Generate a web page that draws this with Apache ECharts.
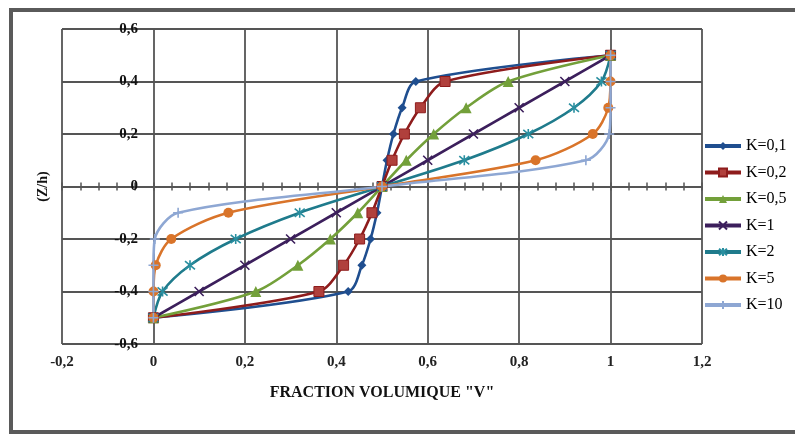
<!DOCTYPE html>
<html>
<head>
<meta charset="utf-8">
<script src="https://cdn.jsdelivr.net/npm/echarts@6/dist/echarts.min.js"></script>
<style>
  html, body { margin: 0; padding: 0; background: #fff; }
  #chart { width: 795px; height: 434px; }
</style>
</head>
<body>
<div id="chart"></div>
<script>
// z/h positions of the plotted points
var zValues = [-0.5, -0.4, -0.3, -0.2, -0.1, 0, 0.1, 0.2, 0.3, 0.4, 0.5];
// volume fraction V read for each K
var vK01 = [0, 0.426, 0.456, 0.475, 0.489, 0.5, 0.511, 0.525, 0.544, 0.574, 1];
var vK02 = [0, 0.362, 0.416, 0.451, 0.478, 0.5, 0.522, 0.549, 0.584, 0.638, 1];
var vK05 = [0, 0.224, 0.316, 0.387, 0.447, 0.5, 0.553, 0.613, 0.684, 0.776, 1];
var vK1 = [0, 0.1, 0.2, 0.3, 0.4, 0.5, 0.6, 0.7, 0.8, 0.9, 1];
var vK2 = [0, 0.02, 0.08, 0.18, 0.32, 0.5, 0.68, 0.82, 0.92, 0.98, 1];
var vK5 = [0, 0.0002, 0.005, 0.039, 0.164, 0.5, 0.836, 0.961, 0.995, 0.9998, 1];
var vK10 = [0, 0, 0.0001, 0.003, 0.054, 0.5, 0.946, 0.997, 0.9999, 1, 1];
var seriesNames = ['K=0,1', 'K=0,2', 'K=0,5', 'K=1', 'K=2', 'K=5', 'K=10'];

var serif = '"Liberation Serif", "DejaVu Serif", serif';

function fmt(v) {
  var r = Math.round(v * 10) / 10;
  return String(r).replace('.', ',');
}

function pairs(vs) {
  return vs.map(function (v, i) { return [v, zValues[i]]; });
}

function line(name, vs, color, symbol, size, extra) {
  var s = {
    name: name,
    type: 'line',
    data: pairs(vs),
    smooth: 0.3,
    symbol: symbol,
    symbolSize: size,
    showAllSymbol: true,
    lineStyle: { color: color, width: 2.6 },
    itemStyle: { color: color }
  };
  if (extra) s.itemStyle = extra;
  return s;
}

var myChart = echarts.init(document.getElementById('chart'));
var option = {
  animation: false,
  backgroundColor: '#fff',
  graphic: [{
    type: 'rect',
    shape: { x: 11, y: 10, width: 800, height: 422 },
    style: { fill: 'none', stroke: '#5a5a5a', lineWidth: 4 },
    z: -1
  }],
  grid: { left: 62, right: 93, top: 29, bottom: 90 },
  legend: {
    orient: 'vertical',
    left: 703,
    top: 138,
    padding: 0,
    itemWidth: 36,
    itemHeight: 10,
    itemGap: 10.5,
    lineStyle: { width: 4 },
    textStyle: { fontFamily: serif, fontSize: 16, lineHeight: 15, color: '#000' },
    data: seriesNames
  },
  xAxis: [
    {
      type: 'value',
      min: -0.2,
      max: 1.2,
      interval: 0.2,
      position: 'bottom',
      name: 'FRACTION VOLUMIQUE "V"',
      nameLocation: 'middle',
      nameGap: 41,
      nameTextStyle: { fontFamily: serif, fontSize: 16, fontWeight: 'bold', color: '#111' },
      axisLine: { show: false, onZero: false },
      axisTick: { show: false },
      axisLabel: { fontFamily: serif, fontSize: 15, fontWeight: 'bold', color: '#222', margin: 11, formatter: fmt },
      splitLine: { show: true, lineStyle: { color: '#555', width: 1.8 } }
    },
    {
      type: 'value',
      min: -0.2,
      max: 1.2,
      interval: 0.04,
      position: 'bottom',
      axisLine: { show: true, onZero: true, onZeroAxisIndex: 0, lineStyle: { color: '#555', width: 1.8 } },
      axisTick: { show: true, inside: true, length: 4, lineStyle: { color: '#555', width: 1.5 } },
      axisLabel: { show: false },
      splitLine: { show: false }
    },
    {
      type: 'value',
      min: -0.2,
      max: 1.2,
      interval: 0.04,
      position: 'bottom',
      axisLine: { show: false, onZero: true, onZeroAxisIndex: 0 },
      axisTick: { show: true, inside: false, length: 4, lineStyle: { color: '#555', width: 1.5 } },
      axisLabel: { show: false },
      splitLine: { show: false }
    }
  ],
  yAxis: [
    {
      type: 'value',
      min: -0.6,
      max: 0.6,
      interval: 0.2,
      position: 'left',
      axisLine: { show: false },
      axisTick: { show: false },
      axisLabel: { show: false },
      splitLine: { show: true, lineStyle: { color: '#555', width: 1.8 } }
    },
    {
      type: 'value',
      min: -0.6,
      max: 0.6,
      interval: 0.2,
      position: 'left',
      offset: -80,
      z: 5,
      name: '(Z/h)',
      nameLocation: 'middle',
      nameGap: 92,
      nameTextStyle: { fontFamily: serif, fontSize: 14, fontWeight: 'bold', color: '#111' },
      axisLine: { show: false },
      axisTick: { show: false },
      axisLabel: { fontFamily: serif, fontSize: 15, fontWeight: 'bold', color: '#111', margin: 4, formatter: fmt },
      splitLine: { show: false }
    }
  ],
  series: [
    line('K=0,1', vK01, '#1f4e8f', 'diamond', 9),
    line('K=0,2', vK02, '#8e1c1c', 'rect', 10, { color: '#b0403c', borderColor: '#8e1c1c', borderWidth: 1 }),
    line('K=0,5', vK05, '#73a03a', 'triangle', 11),
    line('K=1', vK1, '#3c1f5c', 'path://M0,0L10,10M10,0L0,10', 9, { color: '#3c1f5c', borderColor: '#3c1f5c', borderWidth: 1.6 }),
    line('K=2', vK2, '#1f7b8c', 'path://M0,0L10,10M10,0L0,10M5,-1L5,11', 10, { color: '#2a8fa0', borderColor: '#2a8fa0', borderWidth: 1.6 }),
    line('K=5', vK5, '#d9742a', 'circle', 10),
    line('K=10', vK10, '#8ea7d3', 'path://M5,0L5,10M0,5L10,5', 10, { color: '#8ea7d3', borderColor: '#8ea7d3', borderWidth: 1.6 })
  ]
};
myChart.setOption(option);
</script>
</body>
</html>
